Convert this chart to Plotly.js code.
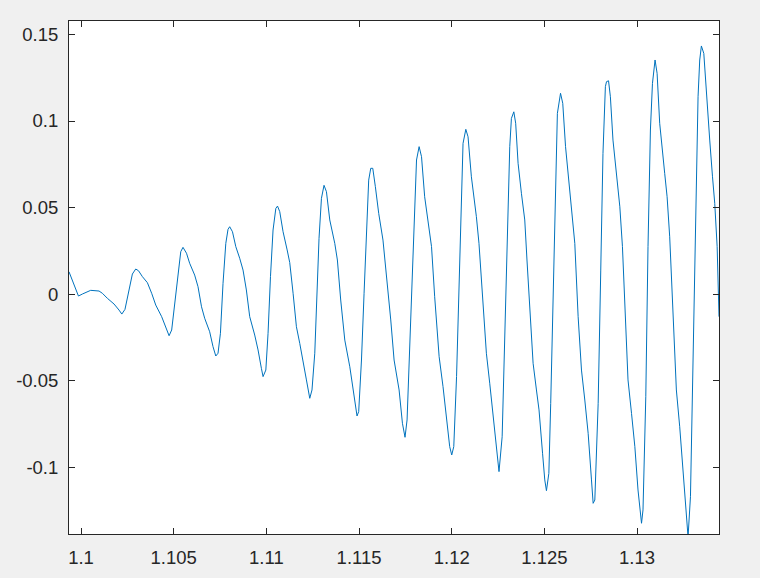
<!DOCTYPE html>
<html>
<head>
<meta charset="utf-8">
<script src="https://cdn.plot.ly/plotly-3.0.1.min.js"></script>
<style>
  html, body { margin: 0; padding: 0; background: #f0f0f0; }
  #chart { width: 760px; height: 578px; }
</style>
</head>
<body>
<div id="chart"></div>
<script>
// Sample times
const timeValues = [
  1.09935, 1.09962, 1.09975, 1.09986, 1.10008, 1.10052, 1.10097, 1.10115, 1.10142, 1.10178,
  1.10205, 1.10220, 1.10237, 1.10259, 1.10277, 1.10295, 1.10310, 1.10331, 1.10358, 1.10381,
  1.10403, 1.10435, 1.10457, 1.10475, 1.10489, 1.10507, 1.10526, 1.10538, 1.10550, 1.10569,
  1.10586, 1.10613, 1.10631, 1.10650, 1.10667, 1.10694, 1.10712, 1.10727, 1.10739, 1.10752,
  1.10766, 1.10781, 1.10793, 1.10802, 1.10817, 1.10835, 1.10856, 1.10874, 1.10892, 1.10910,
  1.10937, 1.10955, 1.10973, 1.10982, 1.10997, 1.11009, 1.11022, 1.11036, 1.11051, 1.11060,
  1.11072, 1.11090, 1.11112, 1.11126, 1.11144, 1.11162, 1.11180, 1.11198, 1.11216, 1.11234,
  1.11246, 1.11261, 1.11273, 1.11284, 1.11297, 1.11311, 1.11324, 1.11342, 1.11369, 1.11383,
  1.11401, 1.11423, 1.11450, 1.11468, 1.11481, 1.11489, 1.11498, 1.11513, 1.11527, 1.11540,
  1.11552, 1.11563, 1.11574, 1.11588, 1.11606, 1.11629, 1.11648, 1.11671, 1.11689, 1.11702,
  1.11716, 1.11734, 1.11748, 1.11759, 1.11774, 1.11788, 1.11801, 1.11810, 1.11824, 1.11837,
  1.11854, 1.11878, 1.11891, 1.11908, 1.11932, 1.11953, 1.11972, 1.11989, 1.12000, 1.12011,
  1.12026, 1.12040, 1.12053, 1.12061, 1.12076, 1.12088, 1.12106, 1.12133, 1.12147, 1.12166,
  1.12187, 1.12205, 1.12223, 1.12245, 1.12255, 1.12272, 1.12286, 1.12299, 1.12313, 1.12322,
  1.12335, 1.12345, 1.12358, 1.12376, 1.12394, 1.12406, 1.12421, 1.12439, 1.12457, 1.12471,
  1.12490, 1.12502, 1.12511, 1.12524, 1.12534, 1.12547, 1.12560, 1.12570, 1.12587, 1.12599,
  1.12614, 1.12631, 1.12649, 1.12664, 1.12682, 1.12700, 1.12718, 1.12736, 1.12754, 1.12763,
  1.12772, 1.12790, 1.12804, 1.12816, 1.12829, 1.12835, 1.12846, 1.12856, 1.12870, 1.12892,
  1.12907, 1.12921, 1.12934, 1.12951, 1.12970, 1.12988, 1.13005, 1.13024, 1.13032, 1.13047,
  1.13059, 1.13072, 1.13083, 1.13097, 1.13108, 1.13122, 1.13149, 1.13162, 1.13176, 1.13191,
  1.13212, 1.13230, 1.13252, 1.13270, 1.13275, 1.13288, 1.13302, 1.13317, 1.13329, 1.13338,
  1.13347, 1.13360, 1.13374, 1.13392, 1.13407, 1.13419, 1.13432, 1.13439, 1.13442
];

// Signal values
const signalValues = [
  0.0130, 0.0054, 0.0025, -0.0010, 0.0002, 0.0023, 0.0019, 0.0006, -0.0023, -0.0056,
  -0.0091, -0.0114, -0.0087, 0.0025, 0.0117, 0.0146, 0.0136, 0.0102, 0.0067, 0.0006,
  -0.0062, -0.0129, -0.0196, -0.0239, -0.0206, -0.0033, 0.0159, 0.0246, 0.0271, 0.0237,
  0.0179, 0.0111, 0.0044, -0.0072, -0.0138, -0.0216, -0.0302, -0.0356, -0.0340, -0.0225,
  0.0063, 0.0294, 0.0375, 0.0390, 0.0361, 0.0275, 0.0208, 0.0140, 0.0025, -0.0129,
  -0.0235, -0.0321, -0.0427, -0.0475, -0.0437, -0.0225, 0.0102, 0.0371, 0.0496, 0.0509,
  0.0477, 0.0361, 0.0256, 0.0183, 0.0006, -0.0187, -0.0283, -0.0379, -0.0494, -0.0600,
  -0.0552, -0.0340, 0.0006, 0.0323, 0.0554, 0.0629, 0.0592, 0.0429, 0.0294, 0.0198,
  -0.0033, -0.0264, -0.0418, -0.0552, -0.0648, -0.0702, -0.0677, -0.0379, 0.0006, 0.0390,
  0.0659, 0.0727, 0.0727, 0.0621, 0.0467, 0.0313, 0.0121, -0.0148, -0.0379, -0.0456,
  -0.0552, -0.0744, -0.0825, -0.0725, -0.0283, 0.0198, 0.0544, 0.0775, 0.0852, 0.0794,
  0.0563, 0.0390, 0.0275, -0.0014, -0.0360, -0.0533, -0.0706, -0.0879, -0.0927, -0.0879,
  -0.0475, 0.0102, 0.0640, 0.0871, 0.0952, 0.0909, 0.0678, 0.0448, 0.0294, 0.0006,
  -0.0340, -0.0513, -0.0706, -0.0937, -0.1023, -0.0822, -0.0245, 0.0332, 0.0852, 0.1015,
  0.1053, 0.0987, 0.0756, 0.0583, 0.0429, 0.0198, -0.0052, -0.0398, -0.0552, -0.0667,
  -0.0917, -0.1071, -0.1133, -0.1033, -0.0629, 0.0044, 0.0717, 0.1044, 0.1160, 0.1102,
  0.0852, 0.0659, 0.0486, 0.0294, -0.0129, -0.0437, -0.0610, -0.0802, -0.1071, -0.1206,
  -0.1187, -0.0629, 0.0140, 0.0813, 0.1198, 0.1227, 0.1232, 0.1140, 0.0890, 0.0659,
  0.0505, 0.0275, -0.0052, -0.0494, -0.0687, -0.0879, -0.1129, -0.1321, -0.1244, -0.0591,
  0.0275, 0.0948, 0.1217, 0.1352, 0.1275, 0.0987, 0.0698, 0.0563, 0.0332, -0.0052,
  -0.0552, -0.0764, -0.1052, -0.1302, -0.1400, -0.1168, -0.0398, 0.0467, 0.1140, 0.1352,
  0.1433, 0.1390, 0.1140, 0.0890, 0.0678, 0.0525, 0.0275, 0.0000, -0.0129
];

const xTickValues = [1.1, 1.105, 1.11, 1.115, 1.12, 1.125, 1.13];
const xTickLabels = ["1.1", "1.105", "1.11", "1.115", "1.12", "1.125", "1.13"];
const yTickValues = [-0.1, -0.05, 0, 0.05, 0.1, 0.15];
const yTickLabels = ["-0.1", "-0.05", "0", "0.05", "0.1", "0.15"];

const xRange = [1.09935, 1.13442];
const yRange = [-0.1383, 0.1577];

const axisColor = "#262626";
const tickFont = { family: "Liberation Sans, Arial, Helvetica, sans-serif", size: 18.5, color: axisColor };

const trace = {
  x: timeValues,
  y: signalValues,
  type: "scatter",
  mode: "lines",
  line: { color: "#0072BD", width: 1 },
  hoverinfo: "skip"
};

const layout = {
  width: 760,
  height: 578,
  paper_bgcolor: "#f0f0f0",
  plot_bgcolor: "#ffffff",
  margin: { l: 69, r: 41, t: 21, b: 44, pad: 0 },
  showlegend: false,
  xaxis: {
    range: xRange,
    tickmode: "array",
    tickvals: xTickValues,
    ticktext: xTickLabels,
    ticks: "inside",
    ticklen: 6,
    tickwidth: 1,
    tickcolor: axisColor,
    ticklabelstandoff: 7,
    showline: true,
    linecolor: axisColor,
    linewidth: 1,
    mirror: "ticks",
    showgrid: false,
    zeroline: false,
    tickfont: tickFont
  },
  yaxis: {
    range: yRange,
    tickmode: "array",
    tickvals: yTickValues,
    ticktext: yTickLabels,
    ticks: "inside",
    ticklen: 6,
    tickwidth: 1,
    tickcolor: axisColor,
    ticklabelstandoff: 6,
    showline: true,
    linecolor: axisColor,
    linewidth: 1,
    mirror: "ticks",
    showgrid: false,
    zeroline: false,
    tickfont: tickFont
  }
};

Plotly.newPlot("chart", [trace], layout, { staticPlot: true, displayModeBar: false });
</script>
</body>
</html>
